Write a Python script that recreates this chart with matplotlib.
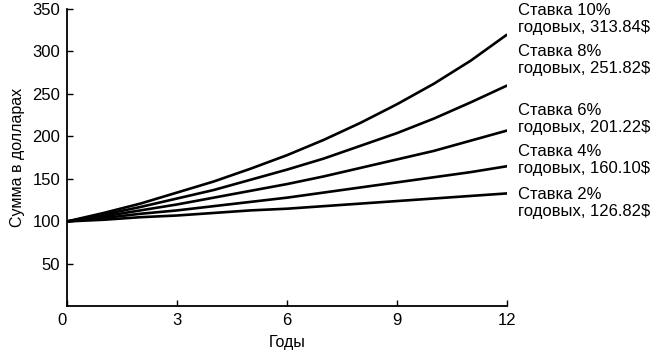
import numpy as np
import matplotlib
matplotlib.use('Agg')
import matplotlib.pyplot as plt

plt.rcParams['font.family'] = ['Liberation Sans', 'DejaVu Sans']

years = list(range(13))
rate_2 = [100, 102, 105, 107, 110, 113, 115, 118, 121, 124, 127, 130, 133]
rate_4 = [100, 104, 109, 113, 118, 123, 128, 134, 140, 146, 152, 158, 165]
rate_6 = [100, 106, 113, 120, 128, 136, 144, 153, 163, 173, 183, 195, 207]
rate_8 = [100, 108, 117, 127, 137, 149, 161, 174, 189, 204, 221, 240, 260]
rate_10 = [100, 110, 121, 134, 147, 162, 178, 196, 216, 238, 262, 289, 320]

series = [rate_10, rate_8, rate_6, rate_4, rate_2]
labels = ['Ставка 10%\nгодовых, 313.84$',
          'Ставка 8%\nгодовых, 251.82$',
          'Ставка 6%\nгодовых, 201.22$',
          'Ставка 4%\nгодовых, 160.10$',
          'Ставка 2%\nгодовых, 126.82$']
label_y = [338, 290, 221, 172, 122]

fig = plt.figure(figsize=(6.57, 3.58), dpi=100)
ax = fig.add_axes([0.102, 0.144, 0.670, 0.831])

for vals in series:
    ax.plot(years, vals, color='black', linewidth=1.9, solid_capstyle='butt')

for text, y in zip(labels, label_y):
    ax.text(12.3, y, text, fontsize=12, va='center', ha='left',
            linespacing=1.18, clip_on=False)

ax.set_xlim(0, 12)
ax.set_ylim(0, 350)
ax.set_xticks([0, 3, 6, 9, 12])
ax.set_yticks([50, 100, 150, 200, 250, 300, 350])
ax.tick_params(direction='in', length=4, width=1, labelsize=12, pad=5)
ax.get_xticklabels()[0].set_horizontalalignment('right')

ax.spines['top'].set_visible(False)
ax.spines['right'].set_visible(False)
ax.spines['left'].set_linewidth(1.3)
ax.spines['bottom'].set_linewidth(1.3)

ax.set_xlabel('Годы', fontsize=11.5, labelpad=5)
ax.set_ylabel('Сумма в долларах', fontsize=11.5, labelpad=5)

fig.savefig('out.png', dpi=100)
